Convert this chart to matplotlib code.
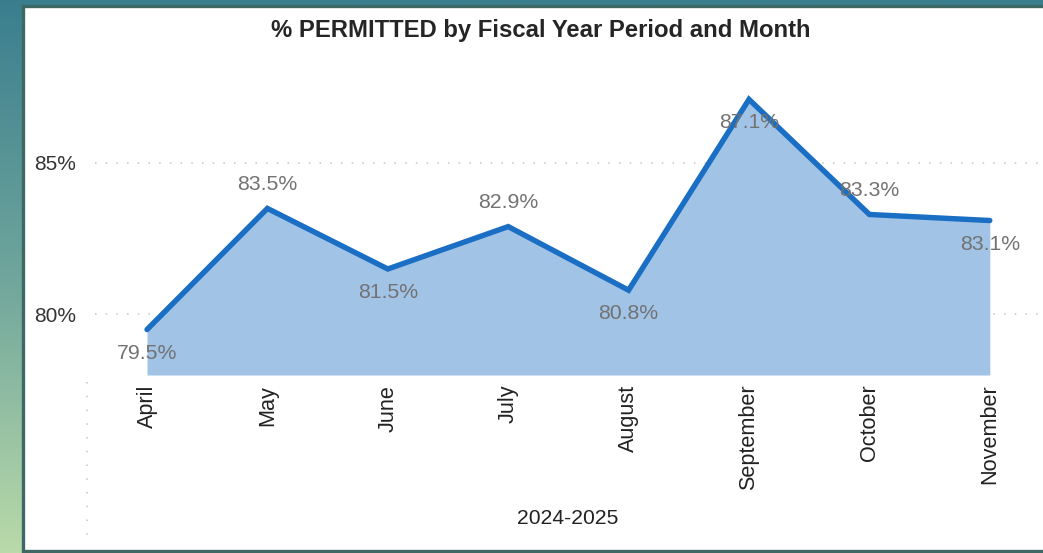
import numpy as np
import matplotlib.pyplot as plt
from matplotlib.colors import LinearSegmentedColormap
from matplotlib.patches import Rectangle
from matplotlib.lines import Line2D

plt.rcParams['font.family'] = ['Liberation Sans', 'DejaVu Sans']

# 월별 허가 비율 (%)
months = ['April', 'May', 'June', 'July', 'August', 'September', 'October', 'November']
permitted_pct = [79.5, 83.5, 81.5, 82.9, 80.8, 87.1, 83.3, 83.1]
period_label = '2024-2025'
y_ticks = [80, 85]

# 라벨 위치 (위/아래)
label_side = ['below', 'above', 'below', 'above', 'below', 'below', 'above', 'below']

W, H = 1043, 553
fig = plt.figure(figsize=(W / 100, H / 100), dpi=100)

# 배경 그라데이션
bg = fig.add_axes([0, 0, 1, 1], zorder=-10)
bg_cmap = LinearSegmentedColormap.from_list('bg', ['#3a7e8e', '#6fa59c', '#b9daa9'])
grad = np.linspace(0, 1, 256).reshape(-1, 1)
bg.imshow(grad, aspect='auto', cmap=bg_cmap, extent=[0, 1, 0, 1], origin='upper')
bg.set_xlim(0, 1)
bg.set_ylim(0, 1)
bg.axis('off')

# 흰색 패널
panel = Rectangle((23 / W, 1 - 551 / H), (1060 - 23) / W, (551 - 6) / H,
                  transform=fig.transFigure, facecolor='white',
                  edgecolor='#3d6864', linewidth=2.4, zorder=-5)
fig.add_artist(panel)

# 차트 영역
left_px, right_px = 86.8, 1050.0
top_px, bottom_px = 60.0, 375.0
ax = fig.add_axes([left_px / W, 1 - bottom_px / H,
                   (right_px - left_px) / W, (bottom_px - top_px) / H])
ax.set_facecolor('none')

x = np.arange(len(months))
ax.fill_between(x, permitted_pct, 78, color='#a0c3e6', linewidth=0, zorder=2)
ax.plot(x, permitted_pct, color='#1a6ec3', linewidth=3.9,
        solid_joinstyle='miter', solid_capstyle='round', zorder=3)

ax.set_xlim(-0.5, len(months) - 0.5)
ax.set_ylim(78, 88.4)

# 점선 그리드
for yv in y_ticks:
    ax.axhline(yv, xmin=0.008, color='#c4c4c4', linewidth=1.1,
               linestyle=(0, (1, 6)), zorder=1)

for spine in ax.spines.values():
    spine.set_visible(False)

ax.set_yticks(y_ticks)
ax.set_yticklabels([f'{v}%' for v in y_ticks], fontsize=15, color='#333333')
ax.tick_params(axis='y', length=0, pad=8)
ax.set_xticks(x)
ax.set_xticklabels(months, rotation=90, fontsize=15.6, color='#222222',
                   va='top', ha='center')
ax.tick_params(axis='x', length=0, pad=7)

# 데이터 라벨
for xi, v, side in zip(x, permitted_pct, label_side):
    dy = 17 if side == 'above' else -17
    ax.annotate(f'{v}%', (xi, v), xytext=(0, dy), textcoords='offset points',
                ha='center', va='center', fontsize=15.3, color='#727272', zorder=5)

# x축 왼쪽 점선
fig.add_artist(Line2D([left_px / W] * 2, [1 - 382 / H, 1 - 535 / H],
                      color='#c4c4c4', linewidth=1.1, linestyle=(0, (1, 8))))

fig.text(568 / W, 1 - 519 / H, period_label, ha='center', va='center',
         fontsize=15.2, color='#222222')
fig.text(541 / W, 1 - 31 / H, '% PERMITTED by Fiscal Year Period and Month',
         ha='center', va='center', fontsize=17.2, fontweight='bold', color='#252525')

fig.savefig('out.png', dpi=100)
